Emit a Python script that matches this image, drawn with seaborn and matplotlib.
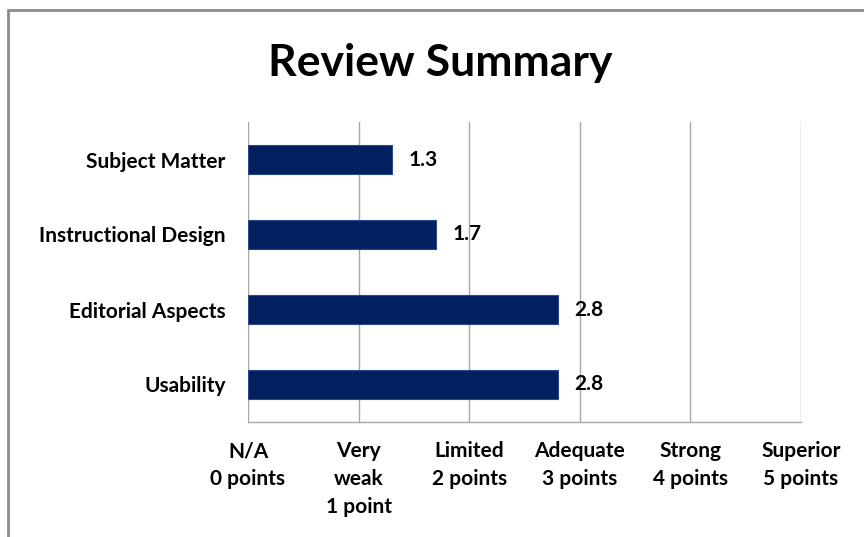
import matplotlib.pyplot as plt
import seaborn as sns
import pandas as pd
from matplotlib.patches import Rectangle

categories = ['Subject Matter', 'Instructional Design', 'Editorial Aspects', 'Usability']
scores = [1.3, 1.7, 2.8, 2.8]
tick_labels = ['N/A\n0 points', 'Very\nweak\n1 point', 'Limited\n2 points',
               'Adequate\n3 points', 'Strong\n4 points', 'Superior\n5 points']

df = pd.DataFrame({'category': categories, 'score': scores})

sns.set_style('white')
plt.rcParams['font.family'] = ['Lato', 'DejaVu Sans']
plt.rcParams['text.color'] = 'black'
plt.rcParams['xtick.color'] = 'black'
plt.rcParams['ytick.color'] = 'black'

fig = plt.figure(figsize=(8.64, 5.37), dpi=100)
ax = fig.add_axes([248 / 864, 1 - 422 / 537, (801 - 248) / 864, 300 / 537])

sns.barplot(data=df, x='score', y='category', orient='h', color='#002060',
            width=0.39, edgecolor='#2a4a8a', linewidth=0.8, ax=ax, saturation=1)

ax.set_xlim(0, 5)
ax.set_xticks(range(6))
ax.set_xticklabels(tick_labels, fontsize=15, fontweight='bold', linespacing=1.5)
ax.tick_params(axis='x', length=0, pad=14)
ax.tick_params(axis='y', length=0, pad=16)
for lbl in ax.get_yticklabels():
    lbl.set_fontsize(15)
    lbl.set_fontweight('bold')
ax.set_xlabel('')
ax.set_ylabel('')
ax.grid(axis='x', color='#a6a6a6', linewidth=1)
ax.set_axisbelow(True)
for side in ['top', 'right', 'left']:
    ax.spines[side].set_visible(False)
ax.spines['bottom'].set_color('#a6a6a6')
ax.spines['bottom'].set_linewidth(1)

for i, v in enumerate(scores):
    ax.annotate(f'{v}', xy=(v, i), xytext=(12, 0), textcoords='offset points',
                va='center', ha='left', fontsize=15, fontweight='bold')

fig.text(440 / 864, 1 - 63 / 537, 'Review Summary', ha='center', va='center',
         fontsize=32, fontweight='bold')

fig.patches.append(Rectangle((8 / 864, -0.05), 1.2, 1.05 - 10 / 537,
                             transform=fig.transFigure, fill=False,
                             edgecolor='#8c8c8c', linewidth=2))

fig.savefig('out.png', dpi=100)
